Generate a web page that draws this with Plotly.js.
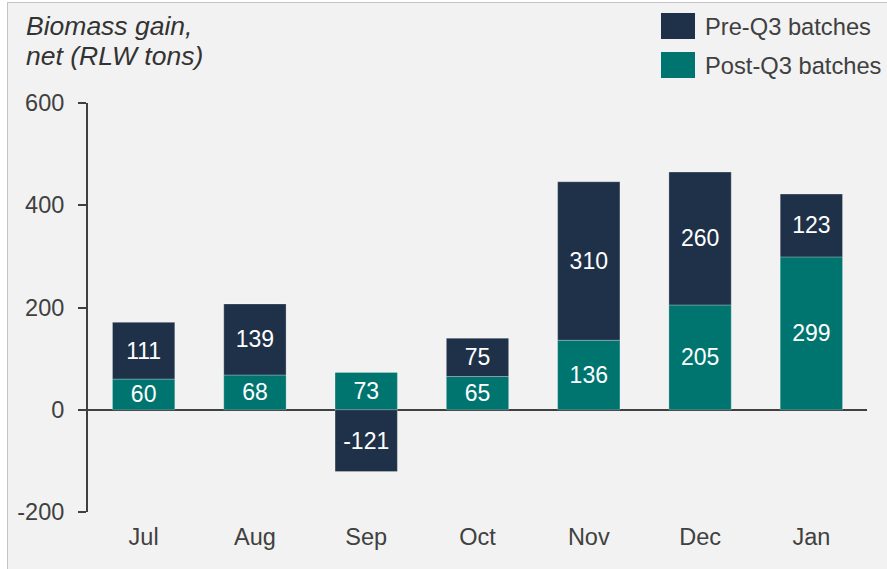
<!DOCTYPE html>
<html>
<head>
<meta charset="utf-8">
<script src="https://cdn.plot.ly/plotly-3.0.1.min.js"></script>
<style>
  html, body { margin: 0; padding: 0; background: #ffffff; }
  #frame { position: absolute; left: 7px; top: 2px; width: 880px; height: 567px;
           background: #f2f2f2; border-left: 1.5px solid #c4c4c4; border-top: 1.5px solid #c4c4c4; }
  #chart { position: absolute; left: 0; top: 0; width: 887px; height: 569px; }
</style>
</head>
<body>
<div id="frame"></div>
<div id="chart"></div>
<script>
const months = ["Jul", "Aug", "Sep", "Oct", "Nov", "Dec", "Jan"];
const preQ3 = [111, 139, -121, 75, 310, 260, 123];
const postQ3 = [60, 68, 73, 65, 136, 205, 299];
const seriesNames = ["Pre-Q3 batches", "Post-Q3 batches"];
const yTicks = [-200, 0, 200, 400, 600];
const titleLines = ["Biomass gain,", "net (RLW tons)"];

const NAVY = "#1f3149";
const TEAL = "#007570";
const TXT = "#404040";
const FONT = "Liberation Sans, Arial, sans-serif";

const L = 88, R = 20, T = 103, B = 57, W = 887, H = 569;
const pw = W - L - R, ph = H - T - B;
const px = x => (x - L) / pw;
const py = y => (H - B - y) / ph;

const barCommon = {
  type: "bar",
  x: months,
  texttemplate: "%{text}",
  textposition: "inside",
  insidetextanchor: "middle",
  textangle: 0,
  constraintext: "none",
  textfont: { family: FONT, size: 23, color: "#ffffff" },
  hoverinfo: "skip",
  showlegend: false
};

const traces = [
  Object.assign({}, barCommon, { y: postQ3, text: postQ3.map(String), name: seriesNames[1],
    marker: { color: TEAL, line: { color: "rgba(255,255,255,0.3)", width: 0.8 } } }),
  Object.assign({}, barCommon, { y: preQ3, text: preQ3.map(String), name: seriesNames[0],
    marker: { color: NAVY, line: { color: "rgba(255,255,255,0.35)", width: 0.8 } } })
];

const legendColors = [NAVY, TEAL];
const legendY = [[13, 39], [52, 78]];
const shapes = [];
const annotations = [];
seriesNames.forEach((n, i) => {
  shapes.push({ type: "rect", xref: "paper", yref: "paper",
    x0: px(661), x1: px(695), y0: py(legendY[i][1]), y1: py(legendY[i][0]),
    fillcolor: legendColors[i], line: { width: 0 } });
  annotations.push({ xref: "paper", yref: "paper", x: px(703),
    y: py((legendY[i][0] + legendY[i][1]) / 2 + 1), xanchor: "left", yanchor: "middle",
    text: n, showarrow: false,
    font: { family: FONT, size: 23.7, color: TXT } });
});
const titleY = [26, 56];
titleLines.forEach((t, i) => {
  annotations.push({ xref: "paper", yref: "paper", x: px(24), y: py(titleY[i]),
    xanchor: "left", yanchor: "middle", text: t, showarrow: false,
    font: { family: FONT, size: 26.5, color: "#333333", style: "italic" } });
});

const layout = {
  width: W, height: H,
  margin: { l: L, r: R, t: T, b: B, pad: 0 },
  paper_bgcolor: "rgba(0,0,0,0)",
  plot_bgcolor: "rgba(0,0,0,0)",
  barmode: "relative",
  bargap: 0.44,
  showlegend: false,
  font: { family: FONT, size: 23.5, color: TXT },
  xaxis: {
    type: "category", range: [-0.5, 6.5], showgrid: false, showline: false,
    ticks: "", ticklabelstandoff: 8, zeroline: false,
    tickfont: { size: 23.5, color: TXT }
  },
  yaxis: {
    range: [-200, 600], tickvals: yTicks, ticktext: yTicks.map(String), showgrid: false,
    showline: true, linecolor: TXT, linewidth: 2,
    ticks: "outside", ticklen: 8, tickwidth: 2, tickcolor: TXT,
    ticklabelstandoff: 9,
    zeroline: true, zerolinecolor: TXT, zerolinewidth: 2,
    tickfont: { size: 23.5, color: TXT }
  },
  shapes: shapes,
  annotations: annotations
};

Plotly.newPlot("chart", traces, layout, { displayModeBar: false, staticPlot: true });
</script>
</body>
</html>
